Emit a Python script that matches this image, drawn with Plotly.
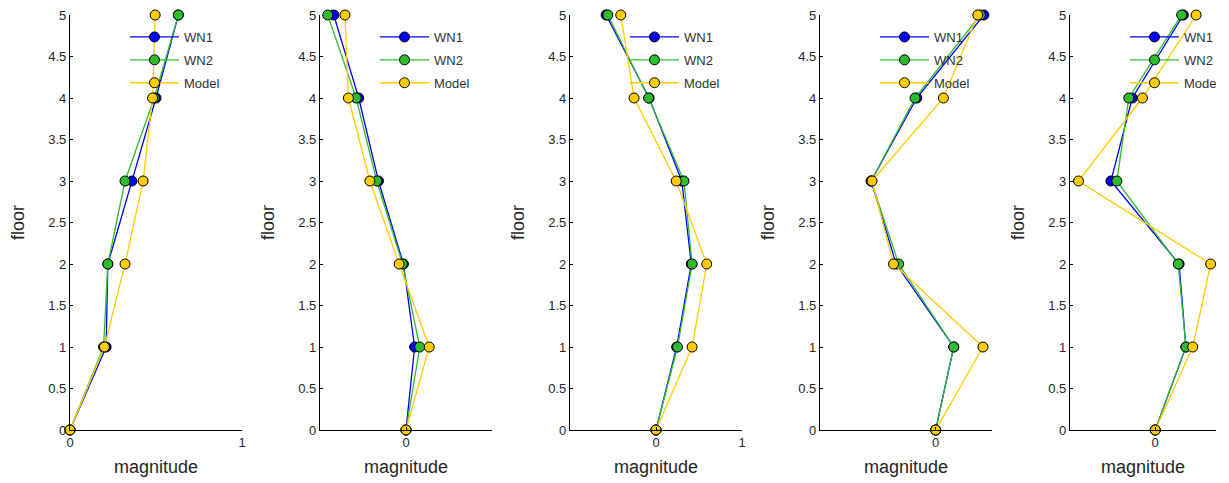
import plotly.graph_objects as go

floors = [0, 1, 2, 3, 4, 5]

# mode shapes (one list per series and panel)
m1_wn1 = [0, 0.21, 0.22, 0.36, 0.50, 0.63]
m1_wn2 = [0, 0.195, 0.22, 0.32, 0.49, 0.63]
m1_model = [0, 0.20, 0.32, 0.425, 0.48, 0.495]

m2_wn1 = [0, 0.10, -0.03, -0.32, -0.55, -0.84]
m2_wn2 = [0, 0.16, -0.04, -0.34, -0.58, -0.91]
m2_model = [0, 0.27, -0.08, -0.42, -0.67, -0.71]

m3_wn1 = [0, 0.24, 0.41, 0.30, -0.08, -0.58]
m3_wn2 = [0, 0.25, 0.42, 0.325, -0.086, -0.56]
m3_model = [0, 0.42, 0.59, 0.235, -0.255, -0.41]

m4_wn1 = [0, 0.21, -0.46, -0.75, -0.22, 0.56]
m4_wn2 = [0, 0.21, -0.43, -0.75, -0.24, 0.52]
m4_model = [0, 0.55, -0.49, -0.74, 0.09, 0.49]

m5_wn1 = [0, 0.36, 0.28, -0.52, -0.27, 0.33]
m5_wn2 = [0, 0.36, 0.27, -0.45, -0.31, 0.31]
m5_model = [0, 0.44, 0.65, -0.90, -0.15, 0.48]

panels = [
    (m1_wn1, m1_wn2, m1_model),
    (m2_wn1, m2_wn2, m2_model),
    (m3_wn1, m3_wn2, m3_model),
    (m4_wn1, m4_wn2, m4_model),
    (m5_wn1, m5_wn2, m5_model),
]
x_ranges = [[0, 1], [-1, 1], [-1, 1], [-1.345, 0.655], [-1, 0.713]]
x_ticks = [[0, 1], [0], [0, 1], [0], [0]]
y_ticks = [0, 0.5, 1, 1.5, 2, 2.5, 3, 3.5, 4, 4.5, 5]
y_ticktext = ["0", "0.5", "1", "1.5", "2", "2.5", "3", "3.5", "4", "4.5", "5"]

series_names = ["WN1", "WN2", "Model"]
series_colors = ["#0000ff", "#2ebd2e", "#ffcc00"]

W, H = 1216, 483
ML, MR, MT, MB = 0, 0, 15, 53
plot_w = W - ML - MR
plot_h = H - MT - MB

fig = go.Figure()
font_family = "Liberation Sans, Arial, sans-serif"
text_col = "#262626"

for i, series in enumerate(panels):
    k = i + 1
    xa = "x" if k == 1 else f"x{k}"
    ya = "y" if k == 1 else f"y{k}"
    leg = "legend" if k == 1 else f"legend{k}"
    for j, vals in enumerate(series):
        fig.add_trace(go.Scatter(
            x=vals, y=floors, mode="lines+markers", name=series_names[j],
            line=dict(color=series_colors[j], width=1.3),
            marker=dict(size=10, color=series_colors[j], line=dict(color="black", width=1)),
            xaxis=xa, yaxis=ya, legend=leg, legendgroup=f"g{k}{j}",
            cliponaxis=False, showlegend=True,
        ))
    left_px = 70 + 250 * i
    right_px = min(242 + 250 * i, W)
    dom = [(left_px - ML) / plot_w, (right_px - ML) / plot_w]
    axis_common = dict(showline=True, linecolor="black", linewidth=1.2, mirror=False,
                       showgrid=False, zeroline=False, ticks="inside", ticklen=3,
                       tickcolor="black", automargin=False,
                       tickfont=dict(family=font_family, size=13, color=text_col))
    fig.update_layout(**{
        ("xaxis" if k == 1 else f"xaxis{k}"): dict(
            domain=dom, range=x_ranges[i], tickvals=x_ticks[i],
            anchor=ya,
            title=dict(text="magnitude", font=dict(family=font_family, size=18, color=text_col), standoff=11),
            **axis_common),
        ("yaxis" if k == 1 else f"yaxis{k}"): dict(
            domain=[0, 1], range=[0, 5], tickvals=y_ticks, ticktext=y_ticktext,
            anchor=xa,
            title=dict(text="floor", font=dict(family=font_family, size=18, color=text_col), standoff=18),
            **axis_common),
    })
    fig.update_layout(**{leg: dict(
        x=(left_px + 55 - ML) / plot_w, y=(430 - 22) / plot_h, xanchor="left", yanchor="top",
        bgcolor="rgba(0,0,0,0)", borderwidth=0, itemwidth=49,
        traceorder="grouped", tracegroupgap=3,
        font=dict(family=font_family, size=13, color="#333333"),
    )})

fig.update_layout(width=W, height=H, margin=dict(l=ML, r=MR, t=MT, b=MB, autoexpand=False),
                  plot_bgcolor="white", paper_bgcolor="white", showlegend=True)
fig.write_html("out.html", config={"displayModeBar": False},
               post_script="document.body.style.margin='0px';")
